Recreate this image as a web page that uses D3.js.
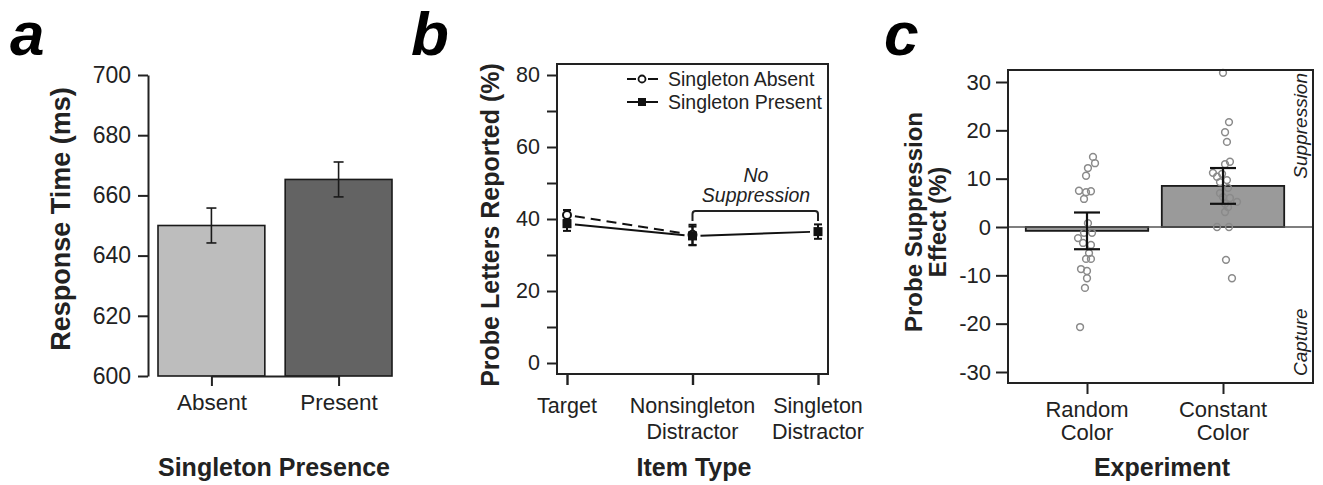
<!DOCTYPE html>
<html lang="en">
<head>
<meta charset="utf-8">
<title>Singleton presence, item type and probe suppression</title>
<script src="https://cdn.jsdelivr.net/npm/d3@7"></script>
<style>
  body { margin: 0; background: #fff; }
  text { font-family: "Liberation Sans", Arial, Helvetica, sans-serif; fill: #222; }
  .panel-label { font-weight: bold; font-style: italic; fill: #000; }
  .title { font-weight: bold; }
</style>
</head>
<body>
<script>
// ---- data ----
// panel a: response time by singleton presence
var presenceCats = ["Absent", "Present"];
var rtMeans = [650, 665.3];
var rtErrs = [5.8, 5.8];
var rtTicks = [600, 620, 640, 660, 680, 700];

// panel b: probe letters reported by item type
var itemTypes = ["Target", "Nonsingleton Distractor", "Singleton Distractor"];
var itemLabels = [["Target"], ["Nonsingleton", "Distractor"], ["Singleton", "Distractor"]];
var absentMeans = [41.1, 35.6, null];
var absentErrs = [1.4, 2.8, null];
var presentMeans = [38.7, 35.3, 36.5];
var presentErrs = [2.0, 2.6, 2.0];
var pctTicks = [0, 10, 20, 30, 40, 50, 60, 70, 80];
var pctLabels = [0, 20, 40, 60, 80];

// panel c: probe suppression effect by experiment
var experiments = ["Random Color", "Constant Color"];
var expLabels = [["Random", "Color"], ["Constant", "Color"]];
var effectMeans = [-0.8, 8.5];
var effectErrs = [3.8, 3.7];
var effectTicks = [-30, -20, -10, 0, 10, 20, 30];
var randomPts = [14.5, 13.2, 12.2, 10.6, 7.5, 7.2, 7.4, 5.8, 0.8, -1.2, -1.2, -2.3, -3.3, -3.7, -5.4, -6.6, -6.6, -8.7, -9.1, -10.6, -12.6, -20.7];
var randomJitter = [0.044, 0.059, 0.007, -0.007, -0.059, -0.007, 0.029, -0.022, 0.007, -0.022, 0.037, -0.066, -0.029, 0.029, 0.015, -0.007, 0.029, -0.044, 0, 0, -0.015, -0.051];
var constantPts = [31.9, 21.7, 19.6, 17.6, 13.5, 13.0, 11.2, 11.0, 10.4, 9.7, 9.3, 8.1, 7.0, 6.2, 6.0, 5.2, 4.8, 4.1, 3.1, 0, 0, -6.8, -10.6];
var constantJitter = [0, 0.044, 0.015, 0.029, 0.051, 0.015, -0.074, -0.007, -0.044, 0.029, -0.022, 0.037, -0.022, 0, 0.051, 0.103, 0.015, 0.037, 0.015, -0.044, 0.044, 0.022, 0.066];

var w = 1323, h = 485;
var svg = d3.select("body").append("svg")
  .attr("width", w).attr("height", h);

function multiLine(sel, lines, x, y0, dy, size) {
  var t = sel.append("text").attr("text-anchor", "middle").style("font-size", size + "px");
  lines.forEach(function(s, i) {
    t.append("tspan").attr("x", x).attr("y", y0 + i * dy).text(s);
  });
  return t;
}

function styleAxis(g, size, width) {
  g.selectAll("path.domain").attr("stroke", "#222").attr("stroke-width", width);
  g.selectAll(".tick line").attr("stroke", "#222").attr("stroke-width", width);
  g.selectAll(".tick text").style("font-size", size + "px").attr("fill", "#222")
    .style("font-family", '"Liberation Sans", Arial, sans-serif');
}

// plain hyphen for negatives, like the original figure
var plain = function(d) { return String(d); };

// ===== panel a =====
var ga = svg.append("g");
var ya = d3.scaleLinear().domain([600, 700]).range([376, 75]);
var xa = d3.scaleBand().domain(presenceCats).range([158, 392]).paddingInner(0.16);
var xaPt = d3.scalePoint().domain(presenceCats)
  .range([xa(presenceCats[0]) + xa.bandwidth() / 2, xa(presenceCats[1]) + xa.bandwidth() / 2]);

ga.selectAll("rect.bar").data(presenceCats).enter().append("rect")
  .attr("x", function(d) { return xa(d); })
  .attr("width", xa.bandwidth())
  .attr("y", function(d, i) { return ya(rtMeans[i]); })
  .attr("height", function(d, i) { return ya(600) - ya(rtMeans[i]); })
  .attr("fill", function(d, i) { return i === 0 ? "#bdbdbd" : "#636363"; })
  .attr("stroke", "#1a1a1a").attr("stroke-width", 1.6);

var errA = ga.selectAll("g.err").data(presenceCats).enter().append("g")
  .attr("stroke", "#1a1a1a").attr("stroke-width", 1.6);
errA.append("line")
  .attr("x1", function(d) { return xaPt(d); }).attr("x2", function(d) { return xaPt(d); })
  .attr("y1", function(d, i) { return ya(rtMeans[i] + rtErrs[i]); })
  .attr("y2", function(d, i) { return ya(rtMeans[i] - rtErrs[i]); });
[1, -1].forEach(function(s) {
  errA.append("line")
    .attr("x1", function(d) { return xaPt(d) - 5; }).attr("x2", function(d) { return xaPt(d) + 5; })
    .attr("y1", function(d, i) { return ya(rtMeans[i] + s * rtErrs[i]); })
    .attr("y2", function(d, i) { return ya(rtMeans[i] + s * rtErrs[i]); });
});

var axYa = ga.append("g").attr("transform", "translate(148,0)")
  .call(d3.axisLeft(ya).tickValues(rtTicks).tickSize(10).tickSizeOuter(0).tickPadding(7).tickFormat(plain));
styleAxis(axYa, 23, 2);
var axXa = ga.append("g").attr("transform", "translate(0,376)")
  .call(d3.axisBottom(xaPt).tickSize(10).tickSizeOuter(0).tickPadding(8));
styleAxis(axXa, 22.5, 2);
axXa.selectAll(".tick text").attr("dy", "0.71em");

ga.append("text").attr("class", "title").attr("text-anchor", "middle")
  .attr("x", 274).attr("y", 476).style("font-size", "25px").text("Singleton Presence");
ga.append("text").attr("class", "title").attr("text-anchor", "middle")
  .attr("transform", "translate(70,219) rotate(-90)").style("font-size", "27px")
  .text("Response Time (ms)");
ga.append("text").attr("class", "panel-label").attr("x", 10).attr("y", 55)
  .style("font-size", "62px").text("a");

// ===== panel b =====
var gb = svg.append("g");
var yb = d3.scaleLinear().domain([0, 80]).range([363, 75]);
var xb = d3.scalePoint().domain(itemTypes).range([567, 818]);
var boxB = { x0: 557, x1: 828, y0: 64, y1: 374 };

gb.append("rect").attr("x", boxB.x0).attr("y", boxB.y0)
  .attr("width", boxB.x1 - boxB.x0).attr("height", boxB.y1 - boxB.y0)
  .attr("fill", "none").attr("stroke", "#222").attr("stroke-width", 2);

var axYb = gb.append("g").attr("transform", "translate(" + boxB.x0 + ",0)")
  .call(d3.axisLeft(yb).tickValues(pctTicks).tickSize(10).tickSizeOuter(0).tickPadding(7)
    .tickFormat(function(d) { return pctLabels.indexOf(d) >= 0 ? String(d) : ""; }));
styleAxis(axYb, 21.5, 2);
axYb.select("path.domain").remove();

var axXb = gb.append("g").attr("transform", "translate(0," + boxB.y1 + ")")
  .call(d3.axisBottom(xb).tickSize(11).tickSizeOuter(0).tickFormat(""));
styleAxis(axXb, 21.5, 2.4);
axXb.select("path.domain").remove();
itemTypes.forEach(function(d, i) {
  multiLine(gb, itemLabels[i], xb(d), 413, 26, 21.5);
});

// connecting lines with gaps around the points (R type="b")
function gapSegments(means) {
  var segs = [], gap = 8;
  for (var i = 0; i < means.length - 1; i++) {
    if (means[i] == null || means[i + 1] == null) continue;
    var x0 = xb(itemTypes[i]), y0 = yb(means[i]);
    var x1 = xb(itemTypes[i + 1]), y1 = yb(means[i + 1]);
    var len = Math.hypot(x1 - x0, y1 - y0), ux = (x1 - x0) / len, uy = (y1 - y0) / len;
    segs.push([[x0 + ux * gap, y0 + uy * gap], [x1 - ux * gap, y1 - uy * gap]]);
  }
  return segs;
}
var line = d3.line();
gb.selectAll("path.absent").data(gapSegments(absentMeans)).enter().append("path")
  .attr("d", line).attr("fill", "none").attr("stroke", "#111").attr("stroke-width", 2)
  .attr("stroke-dasharray", "10,6");
gb.selectAll("path.present").data(gapSegments(presentMeans)).enter().append("path")
  .attr("d", line).attr("fill", "none").attr("stroke", "#111").attr("stroke-width", 2);

function errBars(g, means, errs) {
  means.forEach(function(m, i) {
    if (m == null) return;
    var x = xb(itemTypes[i]);
    var e = g.append("g").attr("stroke", "#111").attr("stroke-width", 2);
    e.append("line").attr("x1", x).attr("x2", x).attr("y1", yb(m + errs[i])).attr("y2", yb(m - errs[i]));
    [1, -1].forEach(function(s) {
      e.append("line").attr("x1", x - 4).attr("x2", x + 4)
        .attr("y1", yb(m + s * errs[i])).attr("y2", yb(m + s * errs[i]));
    });
  });
}
errBars(gb, absentMeans, absentErrs);
errBars(gb, presentMeans, presentErrs);

gb.selectAll("circle.absent").data(absentMeans.filter(function(d) { return d != null; }))
  .enter().append("circle")
  .attr("cx", function(d, i) { return xb(itemTypes[i]); })
  .attr("cy", function(d) { return yb(d); })
  .attr("r", 4).attr("fill", "#fff").attr("stroke", "#111").attr("stroke-width", 2);
gb.selectAll("rect.present").data(presentMeans).enter().append("rect")
  .attr("x", function(d, i) { return xb(itemTypes[i]) - 4.5; })
  .attr("y", function(d) { return yb(d) - 4.5; })
  .attr("width", 9).attr("height", 9).attr("fill", "#111");

// legend
var lg = gb.append("g");
lg.append("line").attr("x1", 627).attr("x2", 636).attr("y1", 79).attr("y2", 79)
  .attr("stroke", "#111").attr("stroke-width", 2);
lg.append("line").attr("x1", 648).attr("x2", 658).attr("y1", 79).attr("y2", 79)
  .attr("stroke", "#111").attr("stroke-width", 2);
lg.append("circle").attr("cx", 642).attr("cy", 79).attr("r", 3.5)
  .attr("fill", "#fff").attr("stroke", "#111").attr("stroke-width", 1.8);
lg.append("line").attr("x1", 627).attr("x2", 658).attr("y1", 102).attr("y2", 102)
  .attr("stroke", "#111").attr("stroke-width", 2);
lg.append("rect").attr("x", 638).attr("y", 98).attr("width", 8).attr("height", 8).attr("fill", "#111");
lg.append("text").attr("x", 668).attr("y", 86).style("font-size", "19.5px").text("Singleton Absent");
lg.append("text").attr("x", 668).attr("y", 109).style("font-size", "19.5px").text("Singleton Present");

// no suppression bracket
var bx0 = xb(itemTypes[1]), bx1 = xb(itemTypes[2]), by = 211;
gb.append("path")
  .attr("d", "M" + bx0 + "," + (by + 10) + "V" + (by + 3) + "Q" + bx0 + "," + by + " " + (bx0 + 3) + "," + by +
    "H" + (bx1 - 3) + "Q" + bx1 + "," + by + " " + bx1 + "," + (by + 3) + "V" + (by + 10))
  .attr("fill", "none").attr("stroke", "#222").attr("stroke-width", 2);
multiLine(gb, ["No", "Suppression"], 756, 182, 20, 19.5).style("font-style", "italic");

gb.append("text").attr("class", "title").attr("text-anchor", "middle")
  .attr("x", 694).attr("y", 476).style("font-size", "25px").text("Item Type");
gb.append("text").attr("class", "title").attr("text-anchor", "middle")
  .attr("transform", "translate(499,225) rotate(-90)").style("font-size", "25px")
  .text("Probe Letters Reported (%)");
gb.append("text").attr("class", "panel-label").attr("x", 411).attr("y", 55)
  .style("font-size", "62px").text("b");

// ===== panel c =====
var gc = svg.append("g");
var yc = d3.scaleLinear().domain([-30, 30]).range([372, 82]);
var xc = d3.scaleLinear().domain([1, 2]).range([1087, 1223]);
var boxC = { x0: 1008, x1: 1313, y0: 70, y1: 383 };
var barW = 0.9;

gc.selectAll("rect.bar").data(experiments).enter().append("rect")
  .attr("x", function(d, i) { return xc(i + 1 - barW / 2); })
  .attr("width", xc(1 + barW) - xc(1))
  .attr("y", function(d, i) { return yc(Math.max(0, effectMeans[i])); })
  .attr("height", function(d, i) { return Math.abs(yc(effectMeans[i]) - yc(0)); })
  .attr("fill", "#9a9a9a").attr("stroke", "#1a1a1a").attr("stroke-width", 1.8);

gc.append("line").attr("x1", boxC.x0).attr("x2", boxC.x1).attr("y1", yc(0)).attr("y2", yc(0))
  .attr("stroke", "#555").attr("stroke-width", 1.6);

function dots(pts, jit, k) {
  gc.selectAll("circle.p" + k).data(pts).enter().append("circle")
    .attr("cx", function(d, i) { return xc(k + jit[i]); })
    .attr("cy", function(d) { return yc(d); })
    .attr("r", 3.4).attr("fill", "none").attr("stroke", "#8a8a8a").attr("stroke-width", 1.5);
}
dots(randomPts, randomJitter, 1);
dots(constantPts, constantJitter, 2);

experiments.forEach(function(d, i) {
  var x = xc(i + 1), m = effectMeans[i], e = effectErrs[i];
  var g = gc.append("g").attr("stroke", "#111").attr("stroke-width", 2.2);
  g.append("line").attr("x1", x).attr("x2", x).attr("y1", yc(m + e)).attr("y2", yc(m - e));
  [1, -1].forEach(function(s) {
    g.append("line").attr("x1", x - 13).attr("x2", x + 13)
      .attr("y1", yc(m + s * e)).attr("y2", yc(m + s * e));
  });
});

gc.append("rect").attr("x", boxC.x0).attr("y", boxC.y0)
  .attr("width", boxC.x1 - boxC.x0).attr("height", boxC.y1 - boxC.y0)
  .attr("fill", "none").attr("stroke", "#222").attr("stroke-width", 2);

var axYc = gc.append("g").attr("transform", "translate(" + boxC.x0 + ",0)")
  .call(d3.axisLeft(yc).tickValues(effectTicks).tickSize(12).tickSizeOuter(0).tickPadding(5).tickFormat(plain));
styleAxis(axYc, 22, 2);
axYc.select("path.domain").remove();
var axXc = gc.append("g").attr("transform", "translate(0," + boxC.y1 + ")")
  .call(d3.axisBottom(xc).tickValues([1, 2]).tickSize(11).tickSizeOuter(0).tickFormat(""));
styleAxis(axXc, 22, 2);
axXc.select("path.domain").remove();
experiments.forEach(function(d, i) {
  multiLine(gc, expLabels[i], xc(i + 1), 417, 23, 22);
});

gc.append("text").attr("text-anchor", "end").style("font-style", "italic").style("font-size", "19px")
  .attr("transform", "translate(1307,73) rotate(-90)").text("Suppression");
gc.append("text").attr("text-anchor", "start").style("font-style", "italic").style("font-size", "19px")
  .attr("transform", "translate(1307,376) rotate(-90)").text("Capture");

gc.append("text").attr("class", "title").attr("text-anchor", "middle")
  .attr("x", 1162).attr("y", 476).style("font-size", "25px").text("Experiment");
var yt = gc.append("text").attr("class", "title").attr("text-anchor", "middle")
  .attr("transform", "rotate(-90)").style("font-size", "24px");
yt.append("tspan").attr("x", -222).attr("y", 922).text("Probe Suppression");
yt.append("tspan").attr("x", -222).attr("y", 946).text("Effect (%)");
gc.append("text").attr("class", "panel-label").attr("x", 884).attr("y", 55)
  .style("font-size", "62px").text("c");
</script>
</body>
</html>
